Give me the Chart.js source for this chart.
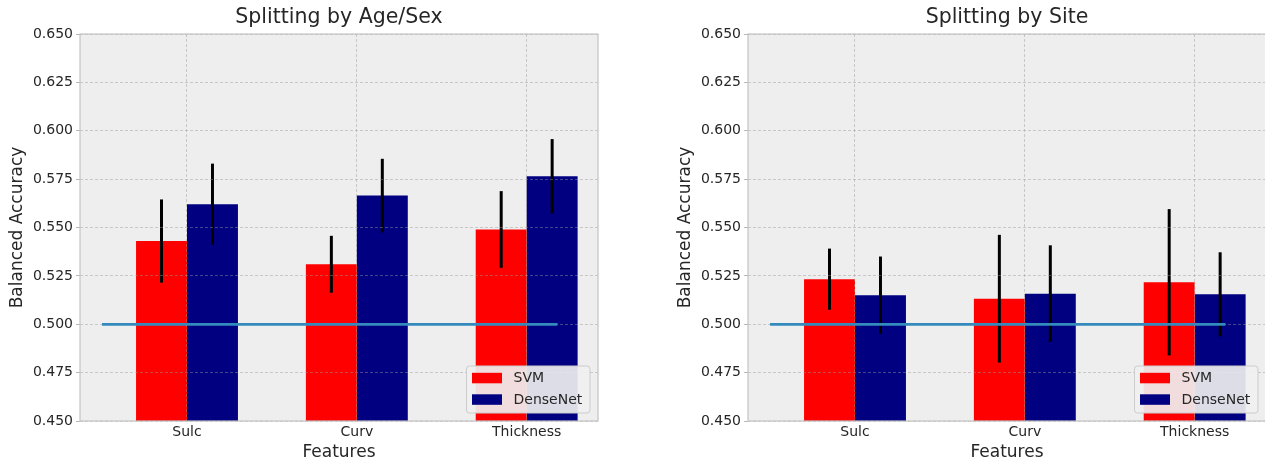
<!DOCTYPE html>
<html>
<head>
<meta charset="utf-8">
<script src="https://cdn.jsdelivr.net/npm/chart.js@4/dist/chart.umd.min.js"></script>
<style>
  html, body { margin: 0; padding: 0; background: #ffffff; overflow: hidden; width: 1265px; height: 463px; }
  .panel { position: absolute; top: 0; width: 620px; height: 463px; }
  #panelAge { left: 0; }
  #panelSite { left: 668px; }
</style>
</head>
<body>
<div class="panel" id="panelAge"><canvas id="chartAge" width="620" height="463"></canvas></div>
<div class="panel" id="panelSite"><canvas id="chartSite" width="620" height="463"></canvas></div>
<script>
// Feature groups on the x axis
const categories = ['Sulc', 'Curv', 'Thickness'];
const seriesNames = ['SVM', 'DenseNet'];

// Split by age/sex: mean balanced accuracy and standard deviation
const svmAgeSex = [0.543, 0.531, 0.549];
const svmAgeSexErr = [0.0215, 0.0147, 0.0198];
const denseAgeSex = [0.562, 0.5665, 0.5765];
const denseAgeSexErr = [0.021, 0.019, 0.0192];

// Split by site
const svmSite = [0.5233, 0.5132, 0.5217];
const svmSiteErr = [0.0158, 0.033, 0.0378];
const denseSite = [0.515, 0.5158, 0.5155];
const denseSiteErr = [0.020, 0.025, 0.0217];

// Chance level reference line and its horizontal extent (in category units)
const chanceLevel = 0.5;
const chanceSpan = [-0.5, 2.18];

// Axis ranges
const yRange = [0.45, 0.65];
const yStep = 0.025;
const xRange = [-0.63, 2.42];

const FONT = "'DejaVu Sans', sans-serif";
const TEXT = '#262626';

// Light gray panel behind the plot
const panelBackground = {
  id: 'panelBackground',
  beforeDraw(chart) {
    const { ctx, chartArea: a } = chart;
    ctx.save();
    ctx.fillStyle = '#eeeeee';
    ctx.fillRect(a.left, a.top, a.right - a.left, a.bottom - a.top);
    ctx.restore();
  }
};

// Vertical error bars drawn right after each bar dataset
const errorBars = {
  id: 'errorBars',
  afterDatasetDraw(chart, args) {
    const ds = chart.data.datasets[args.index];
    if (!ds.errors) return;
    const { ctx, chartArea: a } = chart;
    const yScale = chart.scales.y;
    ctx.save();
    ctx.beginPath();
    ctx.rect(a.left, a.top, a.right - a.left, a.bottom - a.top);
    ctx.clip();
    ctx.strokeStyle = '#000000';
    ctx.lineWidth = 3;
    args.meta.data.forEach((el, i) => {
      const v = ds.data[i].y;
      const e = ds.errors[i];
      ctx.beginPath();
      ctx.moveTo(el.x, yScale.getPixelForValue(v + e));
      ctx.lineTo(el.x, yScale.getPixelForValue(v - e));
      ctx.stroke();
    });
    ctx.restore();
  }
};

// The chance line sits above the grid, which itself is drawn over the bars
const lineOnTop = {
  id: 'lineOnTop',
  afterDraw(chart) {
    const { ctx, chartArea: a } = chart;
    chart.data.datasets.forEach((d, i) => {
      if (d.type !== 'line') return;
      const meta = chart.getDatasetMeta(i);
      ctx.save();
      ctx.beginPath();
      ctx.rect(a.left, a.top, a.right - a.left, a.bottom - a.top);
      ctx.clip();
      meta.controller.draw();
      ctx.restore();
    });
  }
};

// Thin frame around the plot area
const plotFrame = {
  id: 'plotFrame',
  afterDraw(chart) {
    const { ctx, chartArea: a } = chart;
    ctx.save();
    ctx.strokeStyle = '#c4c4c4';
    ctx.lineWidth = 1.2;
    ctx.strokeRect(a.left, a.top, a.right - a.left, a.bottom - a.top);
    ctx.restore();
  }
};

// Boxed legend in the lower right corner of the plot
const boxLegend = {
  id: 'boxLegend',
  afterDraw(chart) {
    const { ctx, chartArea: a } = chart;
    const items = chart.data.datasets.filter(d => d.type !== 'line');
    const w = 123.5, rowH = 21.5, h = 47;
    const x0 = a.right - 8 - w;
    const y0 = a.bottom - 8 - h;
    ctx.save();
    ctx.beginPath();
    if (ctx.roundRect) ctx.roundRect(x0, y0, w, h, 3); else ctx.rect(x0, y0, w, h);
    ctx.fillStyle = 'rgba(240,240,240,0.92)';
    ctx.fill();
    ctx.strokeStyle = '#cccccc';
    ctx.lineWidth = 1;
    ctx.stroke();
    ctx.font = '14px ' + FONT;
    ctx.textBaseline = 'middle';
    ctx.textAlign = 'left';
    items.forEach((d, i) => {
      const cy = y0 + 12 + i * rowH;
      ctx.fillStyle = d.backgroundColor;
      ctx.fillRect(x0 + 5.5, cy - 5.2, 30, 10.5);
      ctx.fillStyle = TEXT;
      ctx.fillText(d.label, x0 + 47, cy + 0.5);
    });
    ctx.restore();
  }
};

function toPoints(values) {
  return values.map((v, i) => ({ x: i, y: v }));
}

function makeChart(canvasId, title, svm, svmErr, dense, denseErr) {
  return new Chart(document.getElementById(canvasId), {
    type: 'bar',
    data: {
      datasets: [
        {
          label: seriesNames[0],
          data: toPoints(svm),
          errors: svmErr,
          backgroundColor: '#ff0000',
          borderWidth: 0,
          order: 1,
          categoryPercentage: 0.6,
          barPercentage: 1.0
        },
        {
          label: seriesNames[1],
          data: toPoints(dense),
          errors: denseErr,
          backgroundColor: '#000080',
          borderWidth: 0,
          order: 1,
          categoryPercentage: 0.6,
          barPercentage: 1.0
        },
        {
          type: 'line',
          label: 'chance',
          data: [{ x: chanceSpan[0], y: chanceLevel }, { x: chanceSpan[1], y: chanceLevel }],
          borderColor: '#348ABD',
          borderWidth: 2.6,
          pointRadius: 0,
          fill: false,
          order: 0
        }
      ]
    },
    options: {
      responsive: false,
      animation: false,
      devicePixelRatio: 1,
      layout: { padding: { left: 0, right: 22, top: 0, bottom: 0 } },
      plugins: {
        legend: { display: false },
        tooltip: { enabled: false },
        title: {
          display: true,
          text: title,
          color: TEXT,
          font: { family: FONT, size: 20.5, weight: 'normal' },
          padding: { top: 5, bottom: 4.4 },
          fullSize: false
        }
      },
      scales: {
        x: {
          type: 'linear',
          min: xRange[0],
          max: xRange[1],
          offset: false,
          afterBuildTicks(scale) {
            scale.ticks = categories.map((_, i) => ({ value: i }));
          },
          afterFit(scale) { scale.height = 42; },
          ticks: {
            callback: (v) => categories[v],
            color: TEXT,
            font: { family: FONT, size: 14 },
            padding: 3,
            maxRotation: 0,
            autoSkip: false
          },
          grid: {
            offset: false,
            z: 1,
            color: 'rgba(150,150,150,0.45)',
            lineWidth: 1,
            drawTicks: false
          },
          border: { display: false, dash: [3, 2] },
          title: {
            display: true,
            text: 'Features',
            color: TEXT,
            font: { family: FONT, size: 17 },
            padding: { top: 0, bottom: 0 }
          }
        },
        y: {
          min: yRange[0],
          max: yRange[1],
          afterFit(scale) { scale.width = 80; },
          ticks: {
            stepSize: yStep,
            callback: (v) => Number(v).toFixed(3),
            color: TEXT,
            font: { family: FONT, size: 14 },
            padding: 3
          },
          grid: {
            z: 1,
            color: 'rgba(150,150,150,0.45)',
            lineWidth: 1,
            drawTicks: true,
            tickLength: 4,
            tickColor: '#b8b8b8'
          },
          border: { display: false, dash: [3, 2] },
          title: {
            display: true,
            text: 'Balanced Accuracy',
            color: TEXT,
            font: { family: FONT, size: 17 },
            padding: { top: 7, bottom: 0 }
          }
        }
      }
    },
    plugins: [panelBackground, errorBars, lineOnTop, plotFrame, boxLegend]
  });
}

makeChart('chartAge', 'Splitting by Age/Sex', svmAgeSex, svmAgeSexErr, denseAgeSex, denseAgeSexErr);
makeChart('chartSite', 'Splitting by Site', svmSite, svmSiteErr, denseSite, denseSiteErr);
</script>
</body>
</html>
